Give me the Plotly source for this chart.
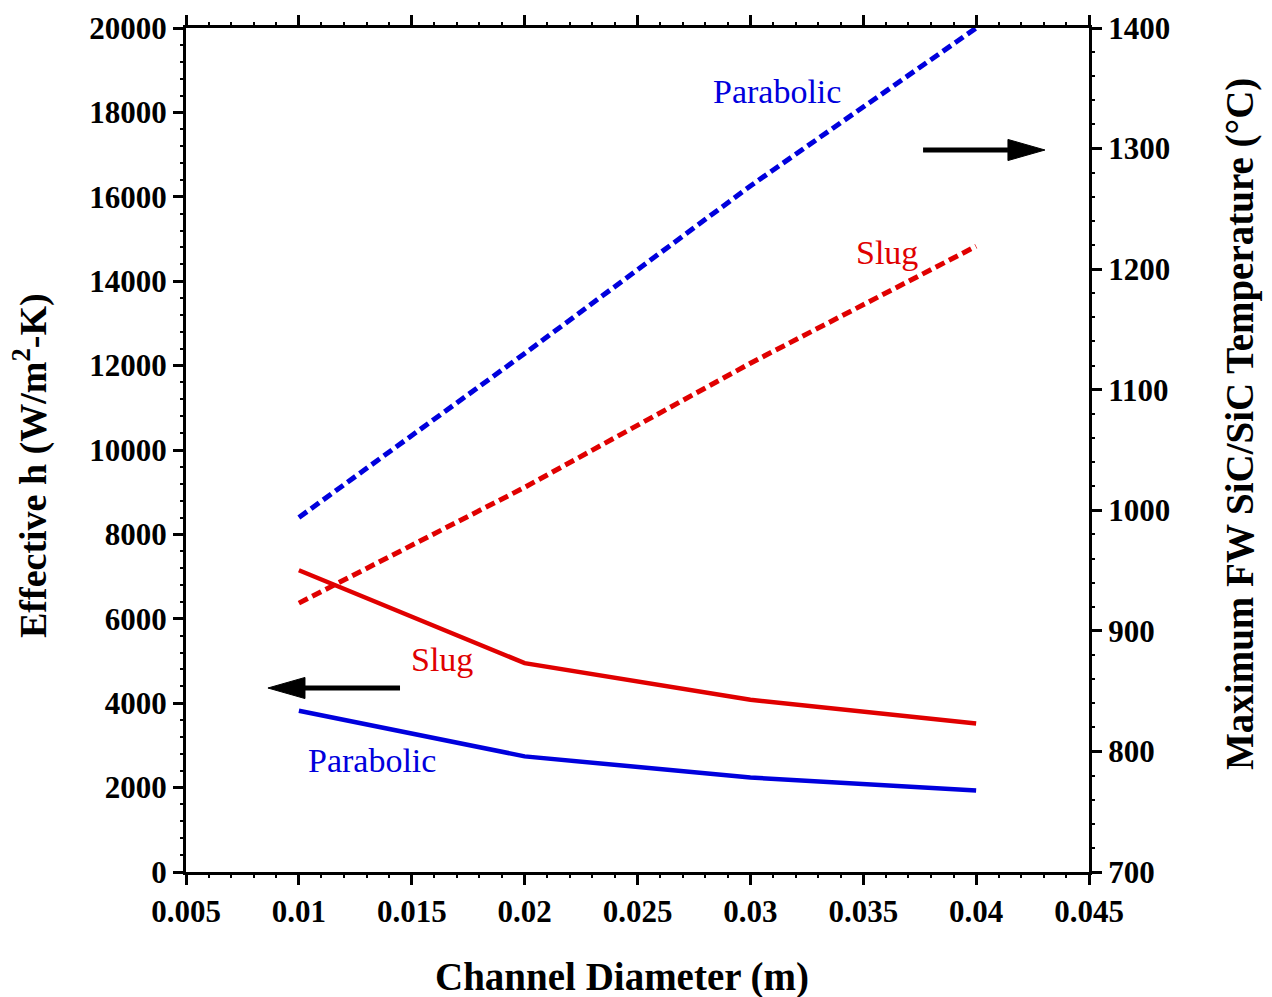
import plotly.graph_objects as go

diam = [0.01, 0.02, 0.03, 0.04]
h_slug = [7150, 4950, 4080, 3520]
h_parab = [3820, 2740, 2240, 1930]
T_parab = [994, 1130, 1269, 1400]
T_slug = [923, 1019, 1122, 1219]

FONT = "Liberation Serif"
RED = "#e00000"
BLUE = "#0000dd"

fig = go.Figure()
fig.add_trace(go.Scatter(x=diam, y=h_slug, mode="lines", line=dict(color=RED, width=4.5), showlegend=False))
fig.add_trace(go.Scatter(x=diam, y=h_parab, mode="lines", line=dict(color=BLUE, width=4.5), showlegend=False))
fig.add_trace(go.Scatter(x=diam, y=T_parab, mode="lines", yaxis="y2",
                         line=dict(color=BLUE, width=5, dash="10px,5px"), showlegend=False))
fig.add_trace(go.Scatter(x=diam, y=T_slug, mode="lines", yaxis="y2",
                         line=dict(color=RED, width=5, dash="10px,5px"), showlegend=False))

tickfont = dict(family=FONT, size=31, color="black", weight="bold")
minor = dict(ticks="outside", ticklen=3, tickwidth=2, tickcolor="black")

fig.update_layout(
    width=1272, height=997,
    margin=dict(l=186, r=183, t=28, b=125),
    paper_bgcolor="white", plot_bgcolor="white",
    xaxis=dict(range=[0.005, 0.045], dtick=0.005, tick0=0.005, showgrid=False, zeroline=False,
               showline=True, linewidth=3, linecolor="black", mirror="ticks", automargin=False,
               ticks="outside", ticklen=10, tickwidth=3, tickcolor="black",
               tickfont=tickfont, tickformat="~g",
               minor=dict(dtick=0.001, **minor)),
    yaxis=dict(range=[0, 20000], dtick=2000, showgrid=False, zeroline=False,
               showline=True, linewidth=3, linecolor="black", automargin=False,
               ticks="outside", ticklen=10, tickwidth=3, tickcolor="black",
               tickfont=tickfont, tickformat="d",
               minor=dict(dtick=400, **minor)),
    yaxis2=dict(range=[700, 1400], dtick=100, overlaying="y", side="right", showgrid=False, zeroline=False,
                showline=True, linewidth=3, linecolor="black", automargin=False,
                ticks="outside", ticklen=10, tickwidth=3, tickcolor="black",
                tickfont=tickfont,
                minor=dict(dtick=20, **minor)),
)

# axis titles
titles = [
    ("Channel Diameter (m)", 0.4828, -0.1244, 0, 39),
    ("Effective h (W/m<sup>2</sup>-K)", -0.1728, 0.4822, -90, 38),
    ("Maximum FW SiC/SiC Temperature (°C)", 1.1672, 0.5308, -90, 39),
]
for txt, x, y, ang, sz in titles:
    fig.add_annotation(x=x, y=y, xref="paper", yref="paper", text=txt, showarrow=False,
                       textangle=ang, xanchor="center", yanchor="middle",
                       font=dict(family=FONT, size=sz, color="black", weight="bold"))

labels = [
    ("Parabolic", 0.03118, 18507, BLUE),
    ("Slug", 0.03605, 14692, RED),
    ("Slug", 0.01634, 5024, RED),
    ("Parabolic", 0.01324, 2654, BLUE),
]
for txt, x, y, c in labels:
    fig.add_annotation(x=x, y=y, text=txt, showarrow=False,
                       font=dict(family=FONT, size=34, color=c))

# arrows: shaft + narrow triangular head (decorations in data coords)
arrows = [
    # tail_x, base_x, tip_x, y, half_height
    (0.03765, 0.04141, 0.04305, 17109, 250),
    (0.01448, 0.01027, 0.00863, 4360, 250),
]
for tail, base, tip, y, hh in arrows:
    fig.add_shape(type="line", xref="x", yref="y", x0=tail, x1=base, y0=y, y1=y,
                  line=dict(color="black", width=5))
    fig.add_shape(type="path", xref="x", yref="y",
                  path=f"M{base},{y - hh} L{tip},{y} L{base},{y + hh} Z",
                  fillcolor="black", line=dict(color="black", width=1))

fig.write_html("out.html")
